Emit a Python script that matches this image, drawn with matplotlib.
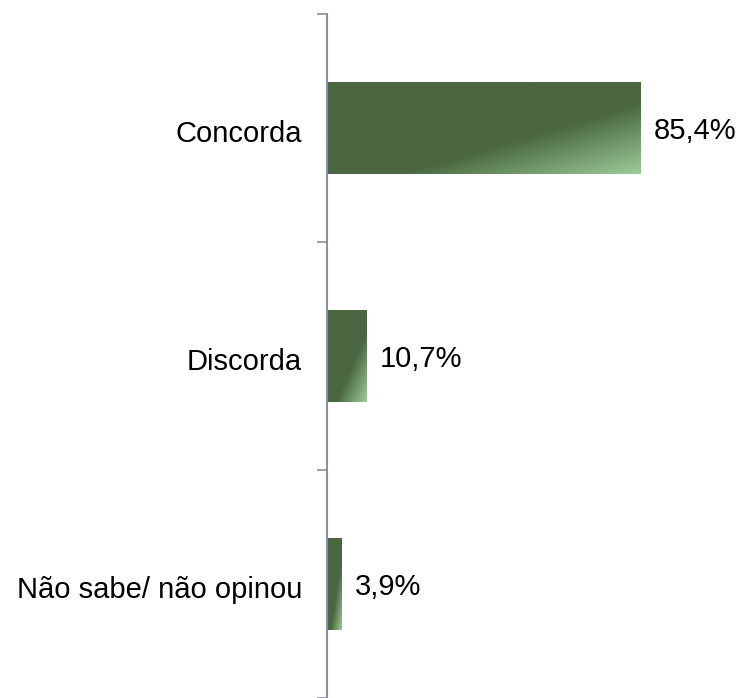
import numpy as np
import matplotlib
matplotlib.use("Agg")
import matplotlib.pyplot as plt
from matplotlib.colors import LinearSegmentedColormap

categories = ["Concorda", "Discorda", "Não sabe/ não opinou"]
values = [85.4, 10.7, 3.9]
value_labels = ["85,4%", "10,7%", "3,9%"]

plt.rcParams['font.family'] = ['Liberation Sans', 'DejaVu Sans']

fig = plt.figure(figsize=(7.42, 6.98), dpi=100)
ax = fig.add_axes([327/742, 0, 1 - 327/742, 1 - 14/698])

n = len(categories)
ypos = np.arange(n)
bar_h = 0.404
bars = ax.barh(ypos, values, height=bar_h, color='none', edgecolor='none')

cmap = LinearSegmentedColormap.from_list('g', [(0, '#4a6741'), (0.62, '#4a6741'), (1.0, '#9ccb98')])
u = np.linspace(0, 1, 200)
v = np.linspace(0, 1, 100)
U, V = np.meshgrid(u, v)
S = (U + V) / 2

for b in bars:
    x0, y0 = b.get_x(), b.get_y()
    w, h = b.get_width(), b.get_height()
    im = ax.imshow(S, cmap=cmap, vmin=0, vmax=1, aspect='auto',
                   extent=(x0, x0 + w, y0 + h, y0), origin='upper', zorder=2,
                   interpolation='bilinear')
    im.set_clip_path(b)

ax.set_ylim(n - 0.5, -0.5)
ax.set_xlim(0, 113)

for y, val, lab in zip(ypos, values, value_labels):
    ax.text(val + 3.7, y + 0.012, lab, va='center', ha='left', fontsize=21, color='black')

ax.set_yticks(np.arange(-0.5, n, 1.0))
ax.set_yticklabels([])
ax.set_yticks(ypos + 0.012, minor=True)
ax.set_yticklabels(categories, minor=True, fontsize=21)
ax.tick_params(axis='y', which='minor', length=0, pad=18)
ax.tick_params(axis='y', which='major', length=7, color='#8c8fa0', width=1.2)
ax.set_xticks([])
for s in ['top', 'right', 'bottom']:
    ax.spines[s].set_visible(False)
ax.spines['left'].set_color('#8c8fa0')
ax.spines['left'].set_linewidth(1.5)

fig.savefig('out.png', dpi=100)
